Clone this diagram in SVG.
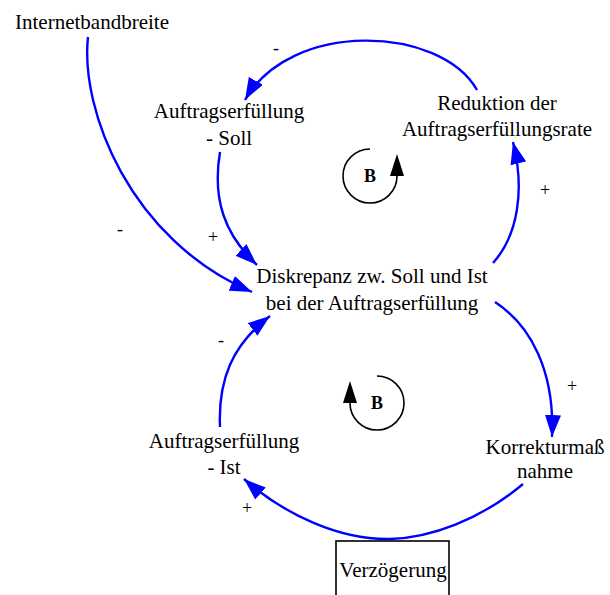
<svg xmlns="http://www.w3.org/2000/svg" width="610" height="595" viewBox="0 0 610 595">
<style>
.n{font-size:21px;text-anchor:middle}
.s{font-size:18px;text-anchor:middle}
.b{font-size:18px;font-weight:bold;text-anchor:middle}
.c{fill:none;stroke:#0000ff;stroke-width:2.4;marker-end:url(#ah)}
.l{fill:none;stroke:#000;stroke-width:1.6;marker-end:url(#lh)}
</style>
<defs>
<marker id="ah" markerUnits="userSpaceOnUse" markerWidth="24" markerHeight="16" viewBox="0 0 24 16" refX="22" refY="8" orient="auto">
<path d="M0,0 L22,8 L0,16 Z" fill="#0000ff"/>
</marker>
<marker id="lh" markerUnits="userSpaceOnUse" markerWidth="22" markerHeight="14" viewBox="0 0 22 14" refX="0" refY="7" orient="auto">
<path d="M0,0 L22,7 L0,14 Z" fill="#000"/>
</marker>
</defs>
<rect width="610" height="595" fill="#fff"/>
<g font-family="'Liberation Serif', 'Times New Roman', 'DejaVu Serif', serif" fill="#000">
<g id="connectors">
<path class="c" d="M477,90 C440,25 290,20 245,100"/>
<path class="c" d="M88,37 C80,110 130,240 252,292"/>
<path class="c" d="M220,152 C212,200 225,235 257,265"/>
<path class="c" d="M493,263 C518,235 525,190 513,142"/>
<path class="c" d="M495,302 C530,325 555,370 552,437"/>
<path class="c" d="M523,484 C480,520 430,538 390,539 C340,540 285,515 244,479"/>
<path class="c" d="M220,427 C218,380 232,345 270,316"/>
<text class="s" x="276" y="54">-</text>
<text class="s" x="120" y="235">-</text>
<text class="s" x="213" y="243">+</text>
<text class="s" x="545" y="196">+</text>
<text class="s" x="572" y="392">+</text>
<text class="s" x="221" y="346">-</text>
<text class="s" x="247" y="514">+</text>
</g>
<g id="loop1">
<path class="l" d="M370,149 A27,27 0 1 0 397,176"/>
<text class="b" x="370" y="182">B</text>
</g>
<g id="loop2">
<path class="l" d="M377,376 A27,27 0 1 1 350,403"/>
<text class="b" x="377" y="409">B</text>
</g>
<g id="internetbandbreite">
<text class="n" x="92" y="29">Internetbandbreite</text>
</g>
<g id="soll">
<text class="n" x="229" y="118">Auftragserfüllung</text>
<text class="n" x="229" y="145">- Soll</text>
</g>
<g id="reduktion">
<text class="n" x="497" y="110">Reduktion der</text>
<text class="n" x="497" y="136">Auftragserfüllungsrate</text>
</g>
<g id="diskrepanz">
<text class="n" x="372" y="283">Diskrepanz zw. Soll und Ist</text>
<text class="n" x="372" y="310">bei der Auftragserfüllung</text>
</g>
<g id="ist">
<text class="n" x="224" y="448">Auftragserfüllung</text>
<text class="n" x="224" y="474">- Ist</text>
</g>
<g id="korrektur">
<text class="n" x="545" y="454">Korrekturmaß</text>
<text class="n" x="545" y="478">nahme</text>
</g>
<g id="verzoegerung">
<rect x="336" y="541" width="113" height="60" fill="none" stroke="#000" stroke-width="1.6"/>
<text class="n" x="393" y="577">Verzögerung</text>
</g>
</g>
</svg>
